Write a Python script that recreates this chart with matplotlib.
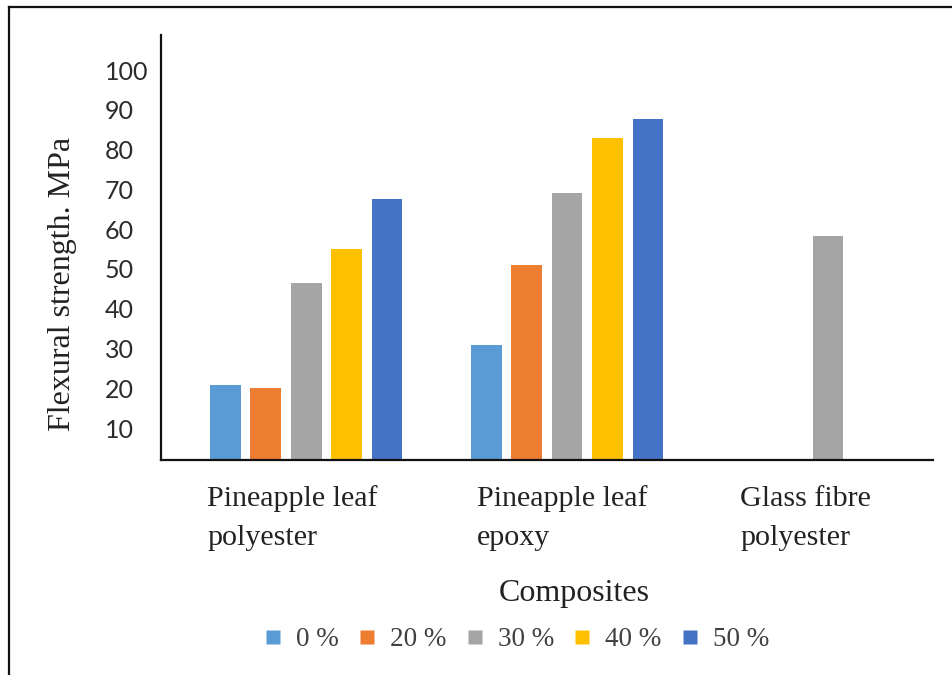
import numpy as np
import matplotlib
matplotlib.use("Agg")
import matplotlib.pyplot as plt
from matplotlib.lines import Line2D

# Composite types and fibre loadings
categories = ["Pineapple leaf\npolyester", "Pineapple leaf\nepoxy", "Glass fibre\npolyester"]
fibre_content = ["0 %", "20 %", "30 %", "40 %", "50 %"]

# Flexural strength (MPa) per composite for each fibre loading
strength_0 = [20.8, 30.8, np.nan]
strength_20 = [20.1, 51.1, np.nan]
strength_30 = [46.6, 69.2, 58.4]
strength_40 = [54.9, 83.0, np.nan]
strength_50 = [67.7, 87.7, np.nan]

y_ticks = [10, 20, 30, 40, 50, 60, 70, 80, 90, 100]

series = [strength_0, strength_20, strength_30, strength_40, strength_50]
colors = ["#5B9BD5", "#ED7D31", "#A5A5A5", "#FFC000", "#4472C4"]

W, H = 952, 675
serif = "Liberation Serif"

fig = plt.figure(figsize=(W / 100, H / 100), dpi=100)
fig.patch.set_facecolor("white")

# axes box in pixels: left 161, right 933, top 35, bottom 460
ax = fig.add_axes([161 / W, 1 - 460 / H, (933 - 161) / W, (460 - 35) / H])

x = np.arange(len(categories))
step = 0.155
width = 0.118
for i, (vals, c) in enumerate(zip(series, colors)):
    ax.bar(x + (i - 2) * step, vals, width, color=c, zorder=2)

ax.set_xlim(-0.556, 2.402)
ax.set_ylim(2.0, 108.8)

for side in ("top", "right"):
    ax.spines[side].set_visible(False)
for side in ("left", "bottom"):
    ax.spines[side].set_color("#111111")
    ax.spines[side].set_linewidth(1.6)
    ax.spines[side].set_zorder(3)

ax.set_yticks(y_ticks)
ax.set_yticklabels([str(v) for v in y_ticks], family="Lato", fontsize=18,
                   color="#2b2b2b", ha="left")
ax.tick_params(axis="y", length=0, pad=40.3)
ax.set_xticks([])

# category labels under the axis, left-aligned blocks (anchored on last line)
label_left = [-0.379, -0.345, -0.337]
for i, lab in enumerate(categories):
    ax.annotate(lab, xy=(i + label_left[i], 0), xycoords=("data", "axes fraction"),
                xytext=(0, -85 * 0.72), textcoords="offset points",
                ha="left", va="baseline", multialignment="left",
                family=serif, fontsize=21.6, linespacing=1.63, color="#222222")

fig.text(63 / W, 1 - 284 / H, "Flexural strength. MPa", rotation=90,
         ha="center", va="center", family=serif, fontsize=23, color="#222222")
fig.text(574 / W, 1 - 593 / H, "Composites", ha="center", va="center",
         family=serif, fontsize=23, color="#222222")

handles = [Line2D([], [], marker="s", linestyle="none", markersize=10,
                  markerfacecolor=c, markeredgecolor="none") for c in colors]
fig.legend(handles, fibre_content, loc="center", bbox_to_anchor=(517 / W, 1 - 640 / H),
           ncol=5, frameon=False, prop={"family": serif, "size": 19.5},
           handlelength=0.6, handletextpad=0.55, columnspacing=0.75, borderpad=0,
           labelcolor="#404040")

# outer frame (left and top edges)
fig.add_artist(Line2D([9 / W, 9 / W], [0, 1 - 7 / H], color="#111111", lw=1.6))
fig.add_artist(Line2D([9 / W, 1], [1 - 7 / H, 1 - 7 / H], color="#111111", lw=1.6))

fig.savefig("out.png", dpi=100)
